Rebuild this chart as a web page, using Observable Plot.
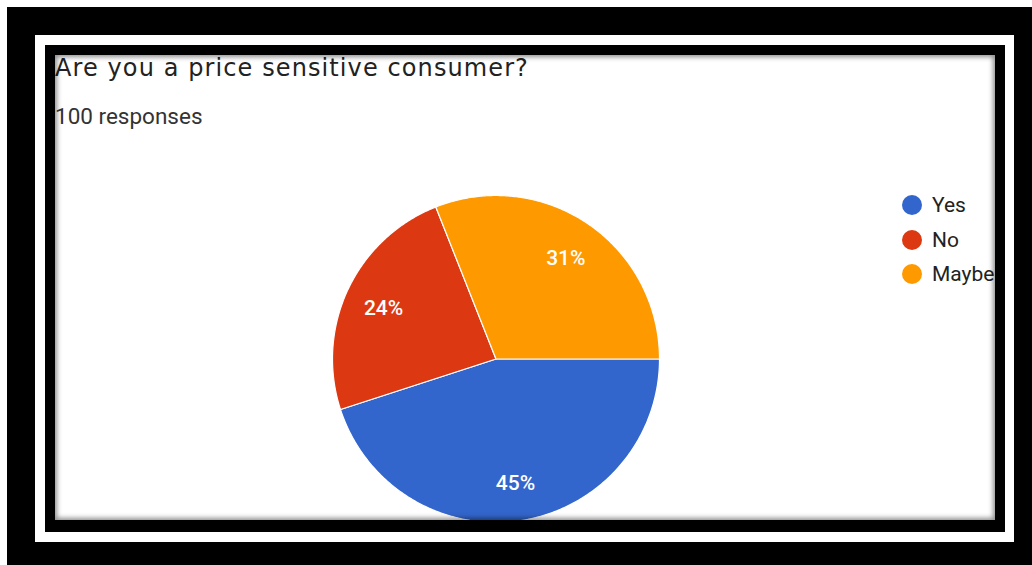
<!DOCTYPE html>
<html>
<head>
<meta charset="utf-8">
<script src="https://cdn.jsdelivr.net/npm/d3@7"></script>
<script src="https://cdn.jsdelivr.net/npm/@observablehq/plot@0.6"></script>
<style>
  html, body { margin: 0; padding: 0; background: #fff; width: 1032px; height: 565px; overflow: hidden; }
  .outer { position: absolute; left: 7px; top: 7px; width: 1025px; height: 558px; background: #000; }
  .gap { position: absolute; left: 35px; top: 35px; width: 979px; height: 507px; background: #fff; }
  .inner { position: absolute; left: 45px; top: 45px; width: 960px; height: 487px; background: #000; }
  .chart { position: absolute; left: 55px; top: 55px; width: 940px; height: 465px; background: #fff; overflow: hidden; }
  .shadow { position: absolute; left: 55px; top: 55px; width: 940px; height: 465px; pointer-events: none;
            box-shadow: inset 0 0 5px 2px rgba(0,0,0,0.45); }
  .title { position: absolute; left: 0px; top: 0px; line-height: 26px; font-family: "DejaVu Sans", sans-serif; font-size: 24px; letter-spacing: 1.1px; color: #222; white-space: nowrap; }
  .sub { position: absolute; left: 0px; top: 48px; line-height: 26px; font-family: Roboto, sans-serif; font-size: 22.5px; color: #333; white-space: nowrap; }
  .legend { position: absolute; left: 847px; top: 133px; font-family: Roboto, sans-serif; font-size: 21px; color: #222; }
  .legend .item { display: flex; align-items: center; height: 34.5px; white-space: nowrap; }
  .legend .sw { width: 20px; height: 20px; border-radius: 50%; margin-right: 10px; }
  #plot { position: absolute; left: 0; top: 0; }
</style>
</head>
<body>
<div class="outer"></div>
<div class="gap"></div>
<div class="inner"></div>
<div class="chart">
  <div class="title" id="title"></div>
  <div class="sub" id="sub"></div>
  <div id="plot"></div>
  <div class="legend" id="legend"></div>
</div>
<div class="shadow"></div>
<script>
const titleText = "Are you a price sensitive consumer?";
const subtitleText = "100 responses";
const categories = ["Yes", "No", "Maybe"];
const shares = [45, 24, 31];
const palette = ["#3366cc", "#dc3912", "#ff9900"];

document.getElementById("title").textContent = titleText;
document.getElementById("sub").textContent = subtitleText;

// Build slice polygons from the shares (start at 3 o'clock, clockwise)
const total = d3.sum(shares);
const startAngle = Math.PI / 2; // compass angle (from 12 o'clock, clockwise)
const polys = [];
const labels = [];
let acc = 0;
categories.forEach((c, i) => {
  const a0 = startAngle + (acc / total) * 2 * Math.PI;
  acc += shares[i];
  const a1 = startAngle + (acc / total) * 2 * Math.PI;
  const n = Math.max(2, Math.ceil((a1 - a0) / 0.01));
  polys.push({cat: c, x: 0, y: 0});
  for (let k = 0; k <= n; k++) {
    const a = a0 + (a1 - a0) * k / n;
    polys.push({cat: c, x: Math.sin(a), y: Math.cos(a)});
  }
  const am = (a0 + a1) / 2;
  const rr = 0.76;
  labels.push({cat: c, x: rr * Math.sin(am), y: rr * Math.cos(am), text: Math.round(100 * shares[i] / total) + "%"});
});

const plot = Plot.plot({
  width: 940,
  height: 470,
  marginLeft: 277,
  marginRight: 336,
  marginTop: 140,
  marginBottom: 3,
  x: {domain: [-1, 1], axis: null},
  y: {domain: [-1, 1], axis: null},
  color: {domain: categories, range: palette},
  style: {background: "transparent", overflow: "visible"},
  marks: [
    Plot.line(polys, {x: "x", y: "y", z: "cat", fill: "cat", stroke: "white", strokeWidth: 1.2, curve: "linear-closed", strokeLinejoin: "round"}),
    Plot.text(labels, {x: "x", y: "y", dy: 2, text: "text", fill: "white", fontSize: 21, fontFamily: "Roboto, sans-serif", fontWeight: 500})
  ]
});
document.getElementById("plot").appendChild(plot);

const legend = document.getElementById("legend");
categories.forEach((c, i) => {
  const item = document.createElement("div");
  item.className = "item";
  const sw = document.createElement("div");
  sw.className = "sw";
  sw.style.background = palette[i];
  const t = document.createElement("span");
  t.textContent = c;
  item.appendChild(sw);
  item.appendChild(t);
  legend.appendChild(item);
});
</script>
</body>
</html>
